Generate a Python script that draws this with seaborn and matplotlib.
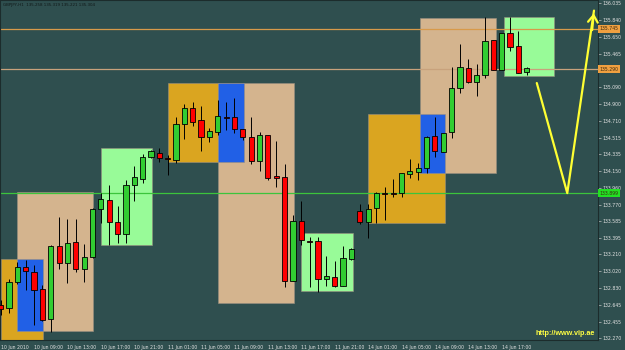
import numpy as np
import pandas as pd
import seaborn as sns
import matplotlib
matplotlib.use("Agg")
import matplotlib.pyplot as plt
import matplotlib.transforms as mtransforms
from matplotlib.patches import Rectangle
from matplotlib import font_manager

# ---------------- data (GBPJPY H1) ----------------
opens = [132.641, 132.607, 132.900, 133.068, 133.012, 132.821, 132.484, 133.304, 133.113, 133.349,
         133.046, 133.181, 133.720, 133.821, 133.574, 133.439, 133.990, 134.057, 134.304, 134.349,
         134.293, 134.271, 134.675, 134.855, 134.720, 134.529, 134.585, 134.754, 134.754, 134.619,
         134.529, 134.260, 134.552, 134.080, 134.080, 132.911, 133.585, 133.349, 133.360, 132.933,
         132.956, 132.855, 133.158, 133.698, 133.574, 133.731, 133.900, 133.894, 133.900, 134.113,
         134.136, 134.181, 134.541, 134.361, 134.585, 135.080, 135.305, 135.147, 135.226, 135.619,
         135.282, 135.698, 135.552, 135.258]
highs = [132.697, 132.933, 133.124, 133.147, 133.091, 132.866, 133.315, 133.630, 133.608, 133.608,
         133.327, 133.731, 133.900, 133.990, 133.754, 134.046, 134.203, 134.338, 134.383, 134.406,
         134.327, 134.754, 134.900, 134.923, 134.878, 134.630, 134.945, 134.923, 134.968, 134.619,
         134.754, 134.585, 134.552, 134.484, 134.226, 133.653, 133.810, 133.405, 133.405, 133.192,
         133.136, 133.304, 133.282, 133.776, 133.776, 133.911, 133.967, 134.057, 134.125, 134.282,
         134.237, 134.541, 134.754, 134.574, 135.316, 135.574, 135.406, 135.350, 135.878, 135.619,
         135.698, 135.878, 135.721, 135.319]
lows = [132.529, 132.551, 132.877, 132.810, 132.416, 132.461, 132.338, 133.046, 132.888, 133.012,
        132.900, 133.169, 133.563, 133.315, 133.338, 133.338, 133.810, 134.012, 134.293, 134.248,
        134.102, 134.237, 134.507, 134.653, 134.372, 134.473, 134.552, 134.608, 134.574, 134.496,
        134.226, 134.147, 134.046, 133.967, 132.843, 132.911, 133.315, 132.843, 132.787, 132.855,
        132.843, 132.855, 133.147, 133.551, 133.394, 133.563, 133.596, 133.855, 133.855, 134.068,
        134.046, 134.125, 134.304, 134.361, 134.518, 135.024, 135.136, 134.990, 135.192, 135.282,
        135.282, 135.496, 135.249, 135.221]
closes = [132.596, 132.900, 133.068, 133.023, 132.810, 132.473, 133.304, 133.113, 133.338, 133.046,
          133.181, 133.720, 133.832, 133.574, 133.439, 133.990, 134.080, 134.304, 134.372, 134.293,
          134.282, 134.675, 134.855, 134.698, 134.529, 134.597, 134.765, 134.743, 134.619, 134.529,
          134.260, 134.552, 134.068, 134.074, 132.911, 133.585, 133.372, 133.344, 132.933, 132.967,
          132.855, 133.169, 133.271, 133.574, 133.720, 133.900, 133.889, 133.889, 134.125, 134.147,
          134.181, 134.529, 134.372, 134.574, 135.080, 135.316, 135.147, 135.226, 135.608, 135.282,
          135.698, 135.541, 135.249, 135.304]

time_labels = ["10 Jun 2010", "10 Jun 09:00", "10 Jun 13:00", "10 Jun 17:00", "10 Jun 21:00",
               "11 Jun 01:00", "11 Jun 05:00", "11 Jun 09:00", "11 Jun 13:00", "11 Jun 17:00",
               "11 Jun 21:00", "14 Jun 01:00", "14 Jun 05:00", "14 Jun 09:00", "14 Jun 13:00",
               "14 Jun 17:00"]
label_every = 4

price_ticks = [136.035, 135.840, 135.650, 135.465, 135.090, 134.900, 134.710, 134.515, 134.335,
               134.150, 133.960, 133.770, 133.585, 133.395, 133.210, 133.020, 132.830, 132.645,
               132.455, 132.270]

level_prices = [135.745, 135.290, 133.899]
level_labels = ["135.745", "135.290", "133.899"]
level_colors = ["#D89A4A", "#C8A27C", "#3CC43C"]
level_tag_colors = ["#F0A040", "#F0A040", "#22E022"]

# session boxes: start bar, end bar, low price, high price, colour
box_start = [0.0, 2.0, 2.0, 12.0, 20.0, 26.0, 26.0, 36.0, 44.0, 50.2, 50.2, 60.3]
box_end = [5.1, 11.05, 5.1, 18.1, 26.0, 35.1, 29.1, 42.2, 53.2, 59.3, 53.2, 66.3]
box_low = [132.20, 132.349, 132.349, 133.315, 134.248, 132.664, 134.248, 132.799, 133.563,
           134.125, 134.125, 135.215]
box_high = [133.158, 133.911, 133.158, 134.406, 135.136, 135.136, 135.136, 133.450, 134.788,
            135.867, 134.788, 135.878]
box_color = ["#DAA520", "#D4B48E", "#2160E6", "#98FB98", "#DAA520", "#D4B48E", "#2160E6",
             "#98FB98", "#DAA520", "#D4B48E", "#2160E6", "#98FB98"]

arrow_bar = [64.2, 67.85, 71.05]
arrow_price = [135.136, 133.899, 135.950]

title_text = "GBPJPY,H1  135.258 135.319 135.221 135.304"
site_text = "http://www.vip.ae"

# ---------------- fonts ----------------
available = {f.name for f in font_manager.fontManager.ttflist}
if "Liberation Sans Narrow" in available:
    SMALL_FAMILY = ["Liberation Sans Narrow", "DejaVu Sans"]
    small_size = 4.1
    title_size = 3.9
else:
    SMALL_FAMILY = ["DejaVu Sans"]
    small_size = 3.3
    title_size = 2.9
SITE_FAMILY = ["Liberation Sans", "DejaVu Sans"]

# ---------------- figure ----------------
BG = "#2F4F4F"
sns.set_style("dark", {"axes.facecolor": BG, "figure.facecolor": BG})
plt.rcParams["font.family"] = ["DejaVu Sans"]

fig = plt.figure(figsize=(6.25, 3.5), dpi=100)
fig.patch.set_facecolor(BG)
ax = fig.add_axes([0.0, 10 / 350, 598 / 625, 340 / 350])
ax.set_facecolor(BG)

df = pd.DataFrame({"o": opens, "h": highs, "l": lows, "c": closes})
df["bar"] = np.arange(len(df))
df["bull"] = df["c"] >= df["o"]

# boxes
for x0, x1, lo, hi, col in zip(box_start, box_end, box_low, box_high, box_color):
    ax.add_patch(Rectangle((x0, lo), x1 - x0, hi - lo, facecolor=col, edgecolor="#9a8f80",
                           linewidth=0.4, zorder=1))

# horizontal levels
for p, col in zip(level_prices, level_colors):
    ax.axhline(p, color=col, lw=0.9, zorder=2)

# wicks
ax.vlines(df["bar"], df["l"], df["h"], color="black", lw=0.7, zorder=3)
# bodies
body_lo = np.minimum(df["o"], df["c"])
body_h = np.maximum(np.abs(df["c"] - df["o"]), 0.012)
colors = np.where(df["bull"], "#32CD32", "#FF0000")
ax.bar(df["bar"], body_h, bottom=body_lo, width=0.62, color=colors, edgecolor="black",
       linewidth=0.6, zorder=4)

# yellow arrow path
sns.lineplot(x=arrow_bar, y=arrow_price, sort=False, color="#FFFF33", lw=1.6, ax=ax, zorder=5)
ax.annotate("", xy=(arrow_bar[-1], arrow_price[-1]),
            xytext=(arrow_bar[-1] - 0.25, arrow_price[-1] - 0.25),
            arrowprops=dict(arrowstyle="->,head_length=0.5,head_width=0.35", color="#FFFF33",
                            lw=1.6), zorder=5)

ax.set_xlim(-0.08, 71.53)
ax.set_ylim(132.248, 136.069)

# x ticks
xt = np.arange(0, len(df), label_every)[:len(time_labels)]
ax.set_xticks(xt)
ax.set_xticklabels(time_labels, fontsize=small_size, color="#e4e4e4", ha="left",
                   family=SMALL_FAMILY)
ax.tick_params(axis="x", length=2.5, width=0.5, color="#c0c0c0", pad=1.0, direction="out")

# y ticks on the right
ax.yaxis.tick_right()
ax.set_yticks(price_ticks)
ax.set_yticklabels([f"{v:.3f}" for v in price_ticks], fontsize=small_size, color="#e4e4e4",
                   family=SMALL_FAMILY)
ax.tick_params(axis="y", length=2.0, width=0.5, color="#c0c0c0", pad=1.2, direction="out")

ax.grid(False)
for s in ax.spines.values():
    s.set_color("#1c2c2c")
    s.set_linewidth(0.8)

# highlighted level tags
trans = mtransforms.blended_transform_factory(ax.transAxes, ax.transData)
for p, lab, col in zip(level_prices, level_labels, level_tag_colors):
    ax.text(1.003, p, lab, transform=trans, fontsize=small_size, color="#3a2a10", va="center",
            ha="left", family=SMALL_FAMILY,
            bbox=dict(boxstyle="square,pad=0.3", fc=col, ec="none"), zorder=6, clip_on=False)

# title and site
ax.text(0.005, 0.99, title_text, transform=ax.transAxes, fontsize=title_size, color="#101818",
        va="top", ha="left", family=SMALL_FAMILY)
ax.text(0.995, 0.008, site_text, transform=ax.transAxes, fontsize=5.2, color="#FFFF44",
        va="bottom", ha="right", fontweight="bold", family=SITE_FAMILY, zorder=6)

fig.savefig("out.png", dpi=100, facecolor=BG)
